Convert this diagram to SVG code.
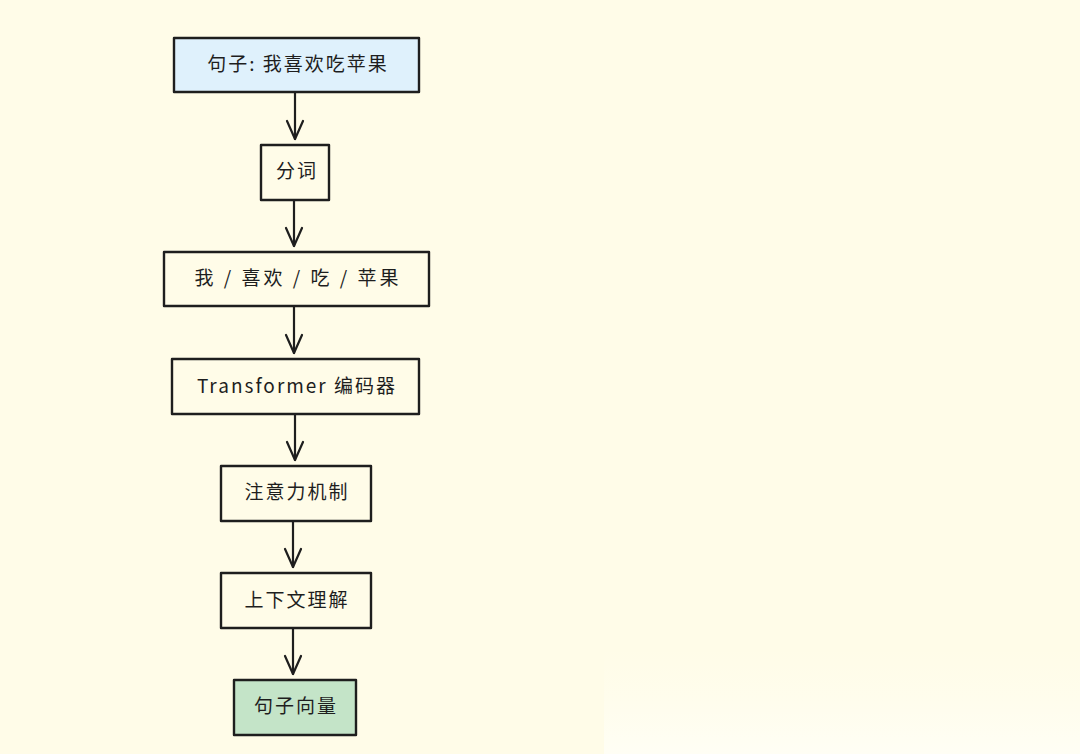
<svg xmlns="http://www.w3.org/2000/svg" width="1080" height="754" viewBox="0 0 1080 754">
<defs>
<style>
.box{stroke:#1e1e1e;stroke-width:2.4;stroke-linejoin:round}
.plain{fill:#fffce8}
.blue{fill:#dff1fc}
.green{fill:#c4e4c8}
.lbl{font-family:"Noto Sans CJK SC","Noto Sans",sans-serif;font-size:19px;fill:#1e1e1e;text-anchor:middle;dominant-baseline:central;letter-spacing:2px}
.wide{letter-spacing:3px}
.edge{stroke:#1e1e1e;stroke-width:2.2;fill:none;stroke-linecap:round}
</style>
<marker id="arr" markerUnits="userSpaceOnUse" viewBox="-20 -10 22 20" markerWidth="22" markerHeight="20" refX="0" refY="0" orient="auto">
<path d="M-18,-8 L0,0 L-18,8" fill="none" stroke="#1e1e1e" stroke-width="2.2" stroke-linecap="round" stroke-linejoin="round"/>
</marker>
<linearGradient id="wm" x1="0" y1="0" x2="0" y2="1">
<stop offset="0" stop-color="#fffef0" stop-opacity="0"/>
<stop offset="1" stop-color="#fffff8" stop-opacity="0.8"/>
</linearGradient>
</defs>
<rect x="0" y="0" width="1080" height="754" fill="#fffce8"/>
<rect x="604" y="648" width="476" height="106" fill="url(#wm)"/>
<g id="connectors">
<line class="edge" x1="295" y1="93" x2="295" y2="139" marker-end="url(#arr)"/>
<line class="edge" x1="294" y1="201" x2="294" y2="246" marker-end="url(#arr)"/>
<line class="edge" x1="294" y1="307" x2="294" y2="353" marker-end="url(#arr)"/>
<line class="edge" x1="295" y1="415" x2="295" y2="460" marker-end="url(#arr)"/>
<line class="edge" x1="293" y1="522" x2="293" y2="567" marker-end="url(#arr)"/>
<line class="edge" x1="293" y1="629" x2="293" y2="674" marker-end="url(#arr)"/>
</g>
<g id="n1"><rect class="box blue" x="174" y="38" width="245" height="54"/><text class="lbl" x="298" y="62">句子: 我喜欢吃苹果</text></g>
<g id="n2"><rect class="box plain" x="261" y="145" width="68" height="55"/><text class="lbl" x="297" y="169">分词</text></g>
<g id="n3"><rect class="box plain" x="164" y="252" width="265" height="54"/><text class="lbl wide" x="298" y="276">我 / 喜欢 / 吃 / 苹果</text></g>
<g id="n4"><rect class="box plain" x="172" y="359" width="247" height="55"/><text class="lbl" x="297" y="384">Transformer 编码器</text></g>
<g id="n5"><rect class="box plain" x="221" y="466" width="150" height="55"/><text class="lbl" x="297" y="490">注意力机制</text></g>
<g id="n6"><rect class="box plain" x="221" y="573" width="150" height="55"/><text class="lbl" x="297" y="598">上下文理解</text></g>
<g id="n7"><rect class="box green" x="234" y="680" width="122" height="55"/><text class="lbl" x="296" y="704">句子向量</text></g>
</svg>
